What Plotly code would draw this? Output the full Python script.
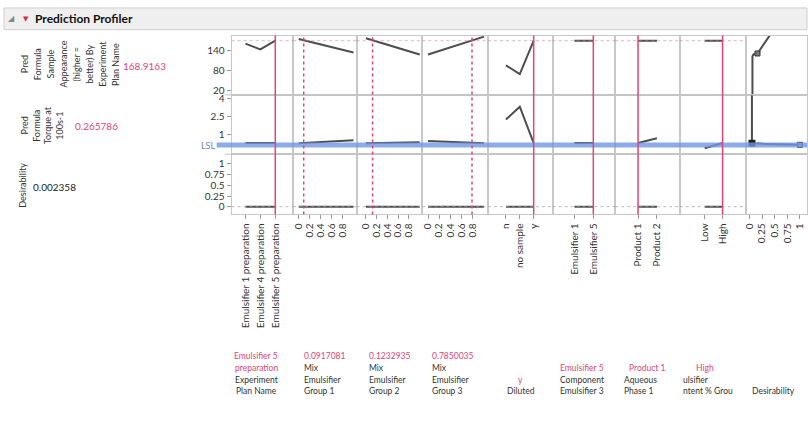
import plotly.graph_objects as go

W, H = 808, 424
FONT = "Lato, Open Sans, sans-serif"
RED = "#e0457a"
CURVE = "#4d4d4d"

# ---------------- data ----------------
plan_levels = ["Emulsifier 1 preparation", "Emulsifier 4 preparation", "Emulsifier 5 preparation"]
plan_appearance = [160, 143, 169]
plan_torque = [0.27, 0.27, 0.27]
plan_desir = [0.002, 0.002, 0.002]

mix_x = [0, 1]
mix_ticks = [0, 0.2, 0.4, 0.6, 0.8]
mix1_appearance = [174, 134]
mix1_torque = [0.25, 0.5]
mix2_appearance = [176, 128]
mix2_torque = [0.25, 0.33]
mix3_appearance = [128, 181]
mix3_torque = [0.45, 0.25]
mix_desir = [0.002, 0.002]

diluted_levels = ["n", "no sample", "y"]
diluted_appearance = [96, 70, 169]
diluted_torque = [2.25, 3.33, 0.27]
diluted_desir = [0.002, 0.002, 0.002]

comp_levels = ["Emulsifier 1", "Emulsifier 5"]
comp_appearance = [169, 169]
comp_torque = [0.27, 0.27]
comp_desir = [0.002, 0.002]

aq_levels = ["Product 1", "Product 2"]
aq_appearance = [169, 169]
aq_torque = [0.27, 0.67]
aq_desir = [0.002, 0.002]

content_levels = ["Low", "High"]
content_appearance = [169, 169]
content_torque = [-0.17, 0.27]
content_desir = [0.002, 0.002]

desir_ticks = [0, 0.25, 0.5, 0.75, 1]
desir_fn1_d = [0.06, 0.06, 0.08, 0.16, 0.40]
desir_fn1_y = [8, 122, 128, 131, 184]
desir_fn2_d = [0.05, 0.05, 0.30, 1.0]
desir_fn2_y = [4.6, 0.25, 0.20, 0.12]

appearance_ticks = [20, 80, 140]
torque_ticks = [1, 2.5, 4]
desirability_ticks = [0, 0.25, 0.5, 0.75, 1]
torque_lsl = 0.1

current_appearance = "168.9163"
current_torque = "0.265786"
current_desirability = "0.002358"
current_appearance_val = 168.9163
current_desir_val = 0.002358

current_settings = ["Emulsifier 5<br>preparation", "0.0917081", "0.1232935", "0.7850035",
                    "y", "Emulsifier 5", "Product 1", "High", ""]
current_values = ["Emulsifier 5 preparation", 0.0917081, 0.1232935, 0.7850035,
                  "y", "Emulsifier 5", "Product 1", "High", None]
factor_labels = ["Experiment<br>Plan Name", "Mix<br>Emulsifier<br>Group 1", "Mix<br>Emulsifier<br>Group 2",
                 "Mix<br>Emulsifier<br>Group 3", "Diluted", "Component<br>Emulsifier 3",
                 "Aqueous<br>Phase 1", "ulsifier<br>ntent % Grou", "Desirability"]

# ---------------- layout geometry ----------------
col_px = [229, 291, 355, 421, 487, 552, 615, 680, 747, 808]
row_px = [(33, 93), (93, 153), (153, 214)]
row_ranges = [[8.3, 183.9], [-0.67, 4.33], [-0.18, 1.227]]
row_ticks = [appearance_ticks, torque_ticks, desirability_ticks]

def px(x):
    return x / W

def py(y):
    return 1 - y / H

cols = [
    dict(kind="cat", levels=plan_levels, rng=[-0.93, 3.2],
         rows=[plan_appearance, plan_torque, plan_desir]),
    dict(kind="num", x=mix_x, ticks=mix_ticks, rng=[-0.1, 1.06],
         rows=[mix1_appearance, mix1_torque, mix_desir]),
    dict(kind="num", x=mix_x, ticks=mix_ticks, rng=[-0.17, 1.05],
         rows=[mix2_appearance, mix2_torque, mix_desir]),
    dict(kind="num", x=mix_x, ticks=mix_ticks, rng=[-0.1, 1.07],
         rows=[mix3_appearance, mix3_torque, mix_desir]),
    dict(kind="cat", levels=diluted_levels, rng=[-1.29, 3.36],
         rows=[diluted_appearance, diluted_torque, diluted_desir]),
    dict(kind="cat", levels=comp_levels, rng=[-1.16, 2.16],
         rows=[comp_appearance, comp_torque, comp_desir]),
    dict(kind="cat", levels=aq_levels, rng=[-1.21, 2.21],
         rows=[aq_appearance, aq_torque, aq_desir]),
    dict(kind="cat", levels=content_levels, rng=[-1.39, 2.33],
         rows=[content_appearance, content_torque, content_desir]),
    dict(kind="desir", ticks=desir_ticks, rng=[-0.06, 1.14], rows=None),
]

fig = go.Figure()
layout = dict(
    width=W, height=H, margin=dict(l=0, r=0, t=0, b=0),
    paper_bgcolor="white", plot_bgcolor="white", showlegend=False,
    font=dict(family=FONT, size=10, color="#333"),
)

shapes = []
annotations = []

for c, col in enumerate(cols):
    for r in range(3):
        n = r * 9 + c + 1
        xa = "xaxis" if n == 1 else f"xaxis{n}"
        ya = "yaxis" if n == 1 else f"yaxis{n}"
        xr = "x" if n == 1 else f"x{n}"
        yr = "y" if n == 1 else f"y{n}"
        bottom = (r == 2)
        xdict = dict(domain=[px(col_px[c]), px(col_px[c + 1])], anchor=yr,
                     range=col["rng"], showgrid=False, zeroline=False,
                     showline=True, mirror=True, linecolor="#c8c8c8", linewidth=1,
                     fixedrange=True)
        if col["kind"] == "cat":
            xdict.update(type="category", categoryorder="array", categoryarray=col["levels"])
        if bottom:
            xdict.update(ticks="outside", ticklen=4, tickcolor="#999", tickangle=-90,
                         tickfont=dict(size=10, color="#333", family=FONT), showticklabels=True)
            if col["kind"] != "cat":
                xdict.update(tickmode="array", tickvals=col["ticks"],
                             ticktext=[f"{t:g}" for t in col["ticks"]])
        else:
            xdict.update(showticklabels=False, ticks="")
        ydict = dict(domain=[py(row_px[r][1]), py(row_px[r][0])], anchor=xr,
                     range=row_ranges[r], showgrid=False, zeroline=False,
                     showline=True, mirror=True, linecolor="#c8c8c8", linewidth=1,
                     fixedrange=True)
        if c == 0:
            ydict.update(ticks="outside", ticklen=4, tickcolor="#999",
                         tickvals=row_ticks[r], ticktext=[f"{t:g}" for t in row_ticks[r]],
                         tickfont=dict(size=10, color="#333", family=FONT))
        else:
            ydict.update(showticklabels=False, ticks="")
        layout[xa] = xdict
        layout[ya] = ydict

        # curves
        if col["kind"] == "desir":
            if r == 0:
                fig.add_trace(go.Scatter(x=desir_fn1_d, y=desir_fn1_y, xaxis=xr, yaxis=yr,
                                         mode="lines", line=dict(color=CURVE, width=2),
                                         hoverinfo="skip"))
                fig.add_trace(go.Scatter(x=[desir_fn1_d[3]], y=[desir_fn1_y[3]], xaxis=xr, yaxis=yr,
                                         mode="markers", marker=dict(symbol="square", size=5,
                                         color="#777", line=dict(color="#333", width=1)),
                                         hoverinfo="skip"))
            elif r == 1:
                fig.add_trace(go.Scatter(x=desir_fn2_d, y=desir_fn2_y, xaxis=xr, yaxis=yr,
                                         mode="lines", line=dict(color=CURVE, width=2),
                                         hoverinfo="skip"))
            else:
                # empty desirability cell: invisible trace so the axis (ticks) is drawn
                fig.add_trace(go.Scatter(x=desir_ticks, y=[None] * len(desir_ticks),
                                         xaxis=xr, yaxis=yr, mode="lines",
                                         line=dict(color="rgba(0,0,0,0)"), hoverinfo="skip"))
        else:
            xs = col["levels"] if col["kind"] == "cat" else col["x"]
            fig.add_trace(go.Scatter(x=xs, y=col["rows"][r], xaxis=xr, yaxis=yr,
                                     mode="lines", line=dict(color=CURVE, width=2),
                                     hoverinfo="skip"))

# LSL band across middle row
shapes.append(dict(type="line", xref="paper", yref="y10",
                   x0=px(214), x1=1, y0=torque_lsl, y1=torque_lsl,
                   line=dict(color="rgba(110,150,230,0.8)", width=5), layer="above"))
fig.add_trace(go.Scatter(x=[desir_fn2_d[1]], y=[desir_fn2_y[1]], xaxis="x18", yaxis="y18",
                         mode="markers", marker=dict(symbol="square", size=7, color="#222"),
                         hoverinfo="skip"))
fig.add_trace(go.Scatter(x=[desir_fn2_d[-1]], y=[desir_fn2_y[-1]], xaxis="x18", yaxis="y18",
                         mode="markers", marker=dict(symbol="square", size=5, color="#9ab",
                         line=dict(color="#333", width=1)), hoverinfo="skip"))
annotations.append(dict(text="LSL", xref="paper", yref="y10", x=px(215), y=torque_lsl,
                        xanchor="right", yanchor="middle", showarrow=False,
                        font=dict(size=9, color="#6f86c8", family=FONT)))

# row separators
for yy in (93, 153):
    shapes.append(dict(type="line", xref="paper", yref="paper", x0=px(222), x1=1,
                       y0=py(yy), y1=py(yy), line=dict(color="#c0c0c0", width=1)))

# current-value horizontal dotted lines (top and bottom rows), columns 1-8
for c in range(8):
    n_top = c + 1
    n_bot = 18 + c + 1
    xr_top = "x" if n_top == 1 else f"x{n_top}"
    shapes.append(dict(type="line", xref=f"{xr_top} domain", yref="y" if n_top == 1 else f"y{n_top}",
                       x0=0, x1=1, y0=current_appearance_val, y1=current_appearance_val,
                       line=dict(color="rgba(215,120,150,0.55)", width=1, dash="dot")))
    shapes.append(dict(type="line", xref=f"x{n_bot} domain", yref=f"y{n_bot}",
                       x0=0, x1=1, y0=current_desir_val, y1=current_desir_val,
                       line=dict(color="rgba(160,160,160,0.7)", width=1, dash="dot")))

# red current-setting vertical lines
for c, col in enumerate(cols[:8]):
    n = 18 + c + 1
    if col["kind"] == "cat":
        xv = col["levels"].index(current_values[c])
        dash = "solid"
    else:
        xv = current_values[c]
        dash = "dot"
    shapes.append(dict(type="line", xref=f"x{n}", yref="paper", x0=xv, x1=xv,
                       y0=py(row_px[2][1]), y1=py(row_px[0][0]),
                       line=dict(color=RED, width=1.5, dash=dash), layer="above"))

# header bar
shapes.append(dict(type="rect", xref="paper", yref="paper", x0=0, x1=1, y0=py(27), y1=py(5),
                   fillcolor="#efefef", line=dict(color="#cfcfcf", width=1), layer="below"))
annotations.append(dict(text="◢", xref="paper", yref="paper", x=px(8), y=py(16),
                        xanchor="center", yanchor="middle",
                        showarrow=False, font=dict(size=8, color="#888", family="DejaVu Sans")))
annotations.append(dict(text="▼", xref="paper", yref="paper", x=px(22), y=py(16),
                        xanchor="center", yanchor="middle",
                        showarrow=False, font=dict(size=7, color="#d0304a", family="DejaVu Sans")))
annotations.append(dict(text="<b>Prediction Profiler</b>", xref="paper", yref="paper",
                        x=px(29), y=py(16), xanchor="left", yanchor="middle", showarrow=False,
                        font=dict(size=12, color="#111", family=FONT)))

# left row labels (rotated)
top_label_lines = ["Pred", "Formula", "Sample", "Appearance", "(higher =", "better) By",
                   "Experiment", "Plan Name"]
for i, t in enumerate(top_label_lines):
    annotations.append(dict(text=t, xref="paper", yref="paper", x=px(20 + 13.2 * i), y=py(62),
                            textangle=-90, showarrow=False, xanchor="center", yanchor="middle",
                            font=dict(size=9, color="#333", family=FONT)))
mid_label_lines = ["Pred", "Formula", "Torque at", "100s-1"]
for i, t in enumerate(mid_label_lines):
    annotations.append(dict(text=t, xref="paper", yref="paper", x=px(21 + 11.5 * i), y=py(124),
                            textangle=-90, showarrow=False, xanchor="center", yanchor="middle",
                            font=dict(size=9, color="#333", family=FONT)))
annotations.append(dict(text="Desirability", xref="paper", yref="paper", x=px(19), y=py(184),
                        xanchor="center", yanchor="middle",
                        textangle=-90, showarrow=False, font=dict(size=9, color="#333", family=FONT)))
annotations.append(dict(text=current_appearance, xref="paper", yref="paper", x=px(118), y=py(64),
                        xanchor="left", yanchor="middle", showarrow=False,
                        font=dict(size=10, color=RED, family=FONT)))
annotations.append(dict(text=current_torque, xref="paper", yref="paper", x=px(69), y=py(124),
                        xanchor="left", yanchor="middle", showarrow=False,
                        font=dict(size=10, color=RED, family=FONT)))
annotations.append(dict(text=current_desirability, xref="paper", yref="paper", x=px(27), y=py(186),
                        xanchor="left", yanchor="middle", showarrow=False,
                        font=dict(size=10, color="#222", family=FONT)))

# bottom factor labels
row_y = [357, 369, 381, 393]
label_x = [(254, "center"), (300, "left"), (365, "left"), (429, "left"), (520, "center"),
           (557, "left"), (622, "left"), (681, "left"), (751, "left")]
red_x = [(254, "center"), (300, "left"), (365, "left"), (429, "left"), (520, "center"),
         (557, "left"), (627, "left"), (705, "center"), (751, "left")]
for c in range(9):
    lines = factor_labels[c].split("<br>")
    n = len(lines)
    for i, t in enumerate(lines):
        yy = row_y[4 - n + i]
        annotations.append(dict(text=t, xref="paper", yref="paper", x=px(label_x[c][0]), y=py(yy),
                                xanchor=label_x[c][1], yanchor="middle", showarrow=False,
                                font=dict(size=8.5, color="#333", family=FONT)))
    if current_settings[c]:
        rl = current_settings[c].split("<br>")
        for j, t in enumerate(rl):
            yy = row_y[4 - n - len(rl) + j]
            annotations.append(dict(text=t, xref="paper", yref="paper", x=px(red_x[c][0]), y=py(yy),
                                    xanchor=red_x[c][1], yanchor="middle", showarrow=False,
                                    font=dict(size=8.5, color=RED, family=FONT)))

layout["shapes"] = shapes
layout["annotations"] = annotations
fig.update_layout(**layout)
fig.write_html("out.html", config={"displayModeBar": False},
               post_script="document.body.style.margin='0';document.body.style.padding='0';")
